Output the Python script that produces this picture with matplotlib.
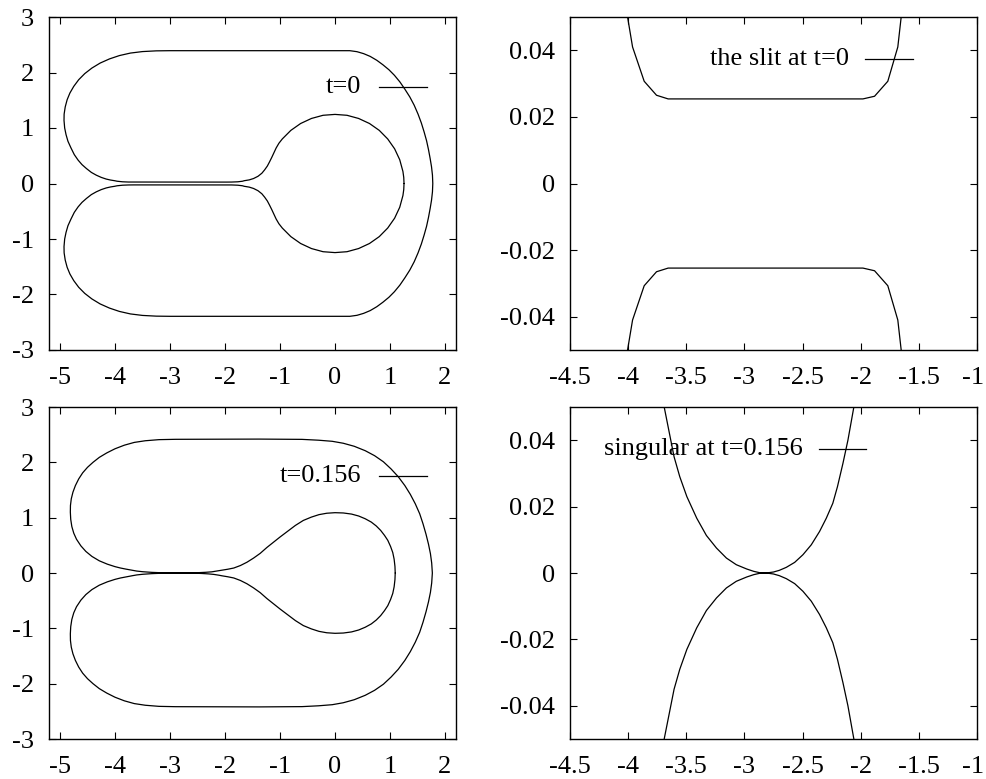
import matplotlib
matplotlib.use("Agg")
import matplotlib.pyplot as plt
import numpy as np

plt.rcParams["font.family"] = ["Liberation Serif", "DejaVu Serif"]
plt.rcParams["font.size"] = 19
plt.rcParams["axes.unicode_minus"] = False

# Upper half (y >= 0) of the boundary at t = 0; the lower half is its mirror image.
t0_x = [1.255, 1.25, 1.235, 1.177, 1.084, 0.958, 0.805, 0.627, 0.429, 0.218, 0.0,
        -0.217, -0.428, -0.625, -0.803, -0.958, -1.02, -1.07, -1.11, -1.15,
        -1.19, -1.23, -1.28, -1.33, -1.40, -1.48, -1.56, -1.61, -1.652, -1.681,
        -1.767, -1.881, -1.981, -3.656, -3.756, -3.862, -3.962, -4.005,
        -4.08, -4.16, -4.25, -4.34, -4.43, -4.52, -4.60, -4.67, -4.74, -4.80,
        -4.855, -4.89, -4.915, -4.927, -4.925, -4.905, -4.87, -4.82, -4.75,
        -4.66, -4.55, -4.42, -4.27, -4.10, -3.92, -3.72, -3.5, -3.25, -3.0,
        0.27, 0.40, 0.52, 0.64, 0.76, 0.87, 0.98, 1.08, 1.18, 1.27, 1.36,
        1.44, 1.51, 1.57, 1.62, 1.665, 1.70, 1.73, 1.755, 1.772, 1.778]
t0_y = [0.0, 0.11, 0.217, 0.428, 0.625, 0.803, 0.957, 1.081, 1.172, 1.229, 1.245,
        1.229, 1.172, 1.081, 0.957, 0.803, 0.725, 0.64, 0.555, 0.47,
        0.39, 0.315, 0.245, 0.185, 0.13, 0.09, 0.065, 0.056, 0.05, 0.041,
        0.0307, 0.0262, 0.0254, 0.0254, 0.0265, 0.0307, 0.041, 0.05,
        0.062, 0.08, 0.11, 0.15, 0.20, 0.27, 0.34, 0.42, 0.52, 0.64,
        0.76, 0.88, 1.0, 1.136, 1.25, 1.38, 1.51, 1.63, 1.75,
        1.87, 1.98, 2.08, 2.17, 2.245, 2.305, 2.35, 2.377, 2.39, 2.393,
        2.393, 2.375, 2.34, 2.29, 2.22, 2.14, 2.05, 1.95, 1.83, 1.70, 1.56,
        1.41, 1.25, 1.09, 0.93, 0.77, 0.61, 0.45, 0.30, 0.15, 0.0]

# Upper half of the boundary at t = 0.156 (touches the axis at the singular point).
t1_x = [1.095, 1.093, 1.09, 1.075, 1.05, 1.01, 0.96, 0.90, 0.83, 0.75, 0.66, 0.55,
        0.43, 0.30, 0.15, 0.0, -0.15, -0.29, -0.43, -0.576, -0.72, -0.88,
        -1.0, -1.12, -1.24, -1.36, -1.48, -1.60, -1.72, -1.84, -1.95,
        -2.059, -2.11, -2.153, -2.20, -2.24, -2.296, -2.354, -2.425, -2.497,
        -2.568, -2.64, -2.70, -2.75, -2.79, -2.83, -2.87, -2.92, -2.98,
        -3.07, -3.155, -3.24, -3.327, -3.41, -3.495, -3.556, -3.605, -3.645,
        -3.69, -3.80, -3.90, -4.0, -4.14, -4.285, -4.42, -4.53, -4.62, -4.70,
        -4.75, -4.785, -4.805, -4.812, -4.81, -4.795, -4.765, -4.72, -4.66,
        -4.588, -4.50, -4.40, -4.285, -4.15, -4.0, -3.83, -3.65, -3.45, -3.2,
        -2.9, -1.376, -0.6, -0.3, -0.05, 0.15, 0.35, 0.55, 0.72, 0.88, 1.02,
        1.15, 1.27, 1.37, 1.46, 1.54, 1.60, 1.655, 1.70, 1.735, 1.758, 1.77]
t1_y = [0.0, 0.06, 0.12, 0.25, 0.37, 0.48, 0.59, 0.68, 0.77, 0.85, 0.92, 0.98,
        1.03, 1.065, 1.085, 1.09, 1.08, 1.055, 1.01, 0.95, 0.86, 0.74,
        0.65, 0.555, 0.46, 0.355, 0.27, 0.195, 0.135, 0.09, 0.068,
        0.05, 0.040, 0.033, 0.026, 0.021, 0.0165, 0.0125, 0.0085, 0.0055,
        0.0032, 0.0017, 0.0008, 0.0003, 0.0001, 0.0, 0.0001, 0.0005, 0.0012,
        0.0025, 0.0045, 0.0075, 0.0113, 0.0165, 0.023, 0.029, 0.035, 0.042,
        0.05, 0.07, 0.09, 0.115, 0.16, 0.22, 0.30, 0.39, 0.49, 0.61,
        0.72, 0.84, 0.97, 1.10, 1.22, 1.34, 1.46, 1.58, 1.70,
        1.81, 1.91, 2.00, 2.09, 2.17, 2.245, 2.31, 2.36, 2.39, 2.41,
        2.416, 2.42, 2.415, 2.40, 2.38, 2.345, 2.29, 2.21, 2.12, 2.01, 1.88,
        1.74, 1.58, 1.42, 1.25, 1.07, 0.89, 0.70, 0.52, 0.35, 0.18, 0.0]

full_xticks = [-5, -4, -3, -2, -1, 0, 1, 2]
full_yticks = [-3, -2, -1, 0, 1, 2, 3]
zoom_xticks = [-4.5, -4, -3.5, -3, -2.5, -2, -1.5, -1]
zoom_xlabels = ["-4.5", "-4", "-3.5", "-3", "-2.5", "-2", "-1.5", "-1"]
zoom_yticks = [-0.04, -0.02, 0.0, 0.02, 0.04]
zoom_ylabels = ["-0.04", "-0.02", "0", "0.02", "0.04"]

labels = ["t=0", "the slit at t=0", "t=0.156", "singular at t=0.156"]


def closed(xs, ys):
    xs = np.asarray(xs, float)
    ys = np.asarray(ys, float)
    return (np.concatenate([xs, xs[-2::-1]]),
            np.concatenate([ys, -ys[-2::-1]]))


W, H = 986, 779
fig = plt.figure(figsize=(W / 100, H / 100), dpi=100)

boxes = {
    (0, 0): (49, 17, 456, 350),
    (0, 1): (570, 17, 977, 350),
    (1, 0): (49, 407, 456, 739),
    (1, 1): (570, 407, 977, 739),
}
key_pos = {
    (0, 0): (0.768, 0.811, 0.928, 0.791),
    (0, 1): (0.685, 0.725, 0.842, 0.875),
    (1, 0): (0.768, 0.811, 0.928, 0.791),
    (1, 1): (0.571, 0.612, 0.728, 0.875),
}

curves = {0: closed(t0_x, t0_y), 1: closed(t1_x, t1_y)}

for (r, c), (x0, y0, x1, y1) in boxes.items():
    ax = fig.add_axes([x0 / W, 1 - y1 / H, (x1 - x0) / W, (y1 - y0) / H])
    cx, cy = curves[r]
    ax.plot(cx, cy, color="black", lw=0.9, solid_capstyle="round",
            solid_joinstyle="round")
    if c == 0:
        ax.set_xlim(-5.2, 2.2)
        ax.set_ylim(-3, 3)
        ax.set_xticks(full_xticks)
        ax.set_xticklabels([str(v) for v in full_xticks])
        ax.set_yticks(full_yticks)
        ax.set_yticklabels([str(v) for v in full_yticks])
    else:
        ax.set_xlim(-4.5, -1)
        ax.set_ylim(-0.05, 0.05)
        ax.set_xticks(zoom_xticks)
        # the last label sits on the figure edge; it is drawn separately below
        ax.set_xticklabels(zoom_xlabels[:-1] + [""])
        ax.annotate(zoom_xlabels[-1], xy=(1, 0), xycoords="axes fraction",
                    xytext=(-3, -12), textcoords="offset points",
                    ha="center", va="top", fontsize=19)
        ax.set_yticks(zoom_yticks)
        ax.set_yticklabels(zoom_ylabels)
    ax.tick_params(direction="in", length=5, width=0.8, top=True, right=True,
                   labelsize=19)
    ax.tick_params(axis="y", pad=11)
    ax.tick_params(axis="x", pad=12)
    for s in ax.spines.values():
        s.set_linewidth(1.0)
    tx, lx0, lx1, ly = key_pos[(r, c)]
    ax.text(tx, ly, labels[2 * r + c], transform=ax.transAxes,
            ha="right", va="center", fontsize=19)
    ax.plot([lx0, lx1], [ly, ly], transform=ax.transAxes, color="black",
            lw=0.9)

fig.savefig("out.png", dpi=100)
